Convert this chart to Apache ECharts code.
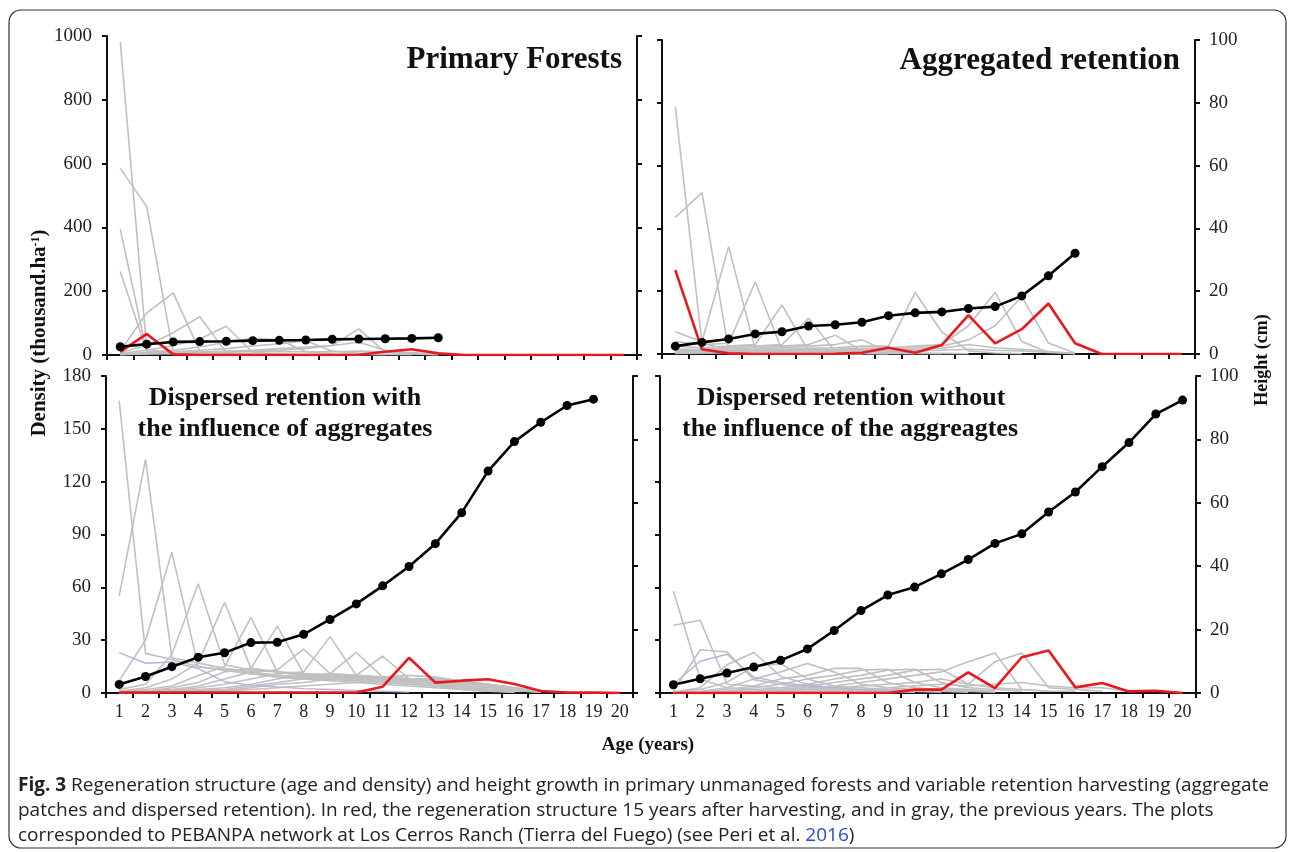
<!DOCTYPE html>
<html>
<head>
<meta charset="utf-8">
<script src="https://cdn.jsdelivr.net/npm/echarts/dist/echarts.min.js"></script>
<style>
html,body{margin:0;padding:0;background:#fff;}
#c{width:1290px;height:852px;}
</style>
</head>
<body>
<div id="c"></div>
<script>
// ---------- DATA ----------
const ages = ['1','2','3','4','5','6','7','8','9','10','11','12','13','14','15','16','17','18','19','20'];
const densityTicksTop = [0, 200, 400, 600, 800, 1000];
const densityTicksBottom = [0, 30, 60, 90, 120, 150, 180];
const heightTicks = [0, 20, 40, 60, 80, 100];

// Primary forests
const pfHeight = [2.6,3.4,4.1,4.2,4.3,4.5,4.6,4.7,4.9,5.0,5.1,5.2,5.4];
const pfRed = [10,66,2,0,0,0,0,0,0,1,10,18,5,0,0,0,0,0,0,0];
const pfGray = [
  [982,18,6,3,2,1,1,0.5],
  [585,465,6,3,2,1,0.5],
  [395,8,4,2,1,0.5],
  [262,10,5,2,1,0.5],
  [12,132,195,12,4,2,1,0.5],
  [8,30,70,120,8,3,2,1],
  [5,15,30,50,90,8,3,2,1],
  [3,8,15,25,40,52,48,10,4,2,1],
  [2,5,10,15,20,28,35,45,12,5,2,1],
  [2,4,6,10,12,15,20,25,30,82,8,3,1],
  [1,3,5,8,10,12,15,20,30,40,15,5,1],
  [3,5,8,10,10,10,10,10,10,12,10,8,3]
];

// Aggregated retention
const arHeight = [2.5,3.7,4.8,6.4,7.1,8.9,9.3,10.1,12.2,13.1,13.4,14.5,15.1,18.5,24.9,32.1];
const arRed = [267,15,2,0,0,0,1,4,20,4,29,124,34,79,161,34,0,0,0,0];
const arGray = [
  [788,34,15,8,5,3,2,1],
  [435,514,13,8,5,3,2,1],
  [71,39,342,13,6,3,2,1],
  [40,30,34,230,12,5,3,2,1],
  [25,20,25,30,156,10,4,2,1],
  [15,15,20,25,30,114,8,3,2,1],
  [10,12,15,20,25,30,60,10,4,2,1],
  [8,10,12,15,20,25,30,45,8,3,2,1],
  [6,8,10,12,15,18,20,25,25,196,70,10,3,1],
  [5,6,8,10,12,14,15,18,20,25,30,90,196,40,5],
  [4,5,6,8,10,12,14,15,18,20,25,45,90,183,35,3],
  [3,4,5,6,8,10,10,12,12,15,18,30,20,15,8,2],
  [2,3,4,5,6,8,8,10,10,10,12,15,12,10,5,1]
];

// Dispersed retention with the influence of aggregates
const dwHeight = [2.7,5.2,8.3,11.3,12.7,15.9,16.0,18.5,23.2,28.1,33.8,39.9,47.1,56.9,70.0,79.3,85.4,90.7,92.7];
const dwRed = [0.3,0.3,0.3,0.3,0.3,0.3,0.3,0.3,0.3,0.3,3.6,20.0,5.9,7.0,7.8,5.1,1.1,0.3,0.2,0];
const dwLavender = [22.9,16.9,17.6,13.9,6.4,4.5,3.5,2.5,2,1.5,1,0.5];
const dwGray = [
  [166,22.5,19,15,13,11,9,8,7,6,5,4,3,2,1,0.5],
  [55,132.7,20,17,14,12,10,9,8,7,6,5,4,3,2,1],
  [7,30,80,15,13,11,10,9,8,7,6,5,4,2,1],
  [2,5,22,62,16,13,12,10,9,8,7,6,5,3,1.5,0.5],
  [1,3,8,17,51.5,14,12,10,9,8,7,6,5,4,2,1],
  [1,2,4,10,15,43,12,11,10,9,8,7,6,4,2,1],
  [0.5,1,3,6,12,14,38,11,10,9,8,7,6,5,3,1.5,0.5],
  [0.5,1,2,4,8,12,13,25,11,10,9,8,7,5,3,1.5,0.5],
  [0.5,1,1.5,3,5,8,11,12,32,10,9,8,7,6,4,2,1],
  [0.3,0.5,1,2,3,5,8,10,11,23,9,8,7,6,4,2,1],
  [0.3,0.5,1,1.5,2,4,6,8,10,10,21,8,7,6,5,3,1],
  [0.3,0.3,0.5,1,1.5,3,5,6,8,9,9,10,9,7,5,3,1],
  [0.2,0.3,0.5,1,1,2,3,4,5,6,7,8,8,7,5,3,1]
];

// Dispersed retention without the influence of the aggregates
const dnHeight = [2.6,4.5,6.3,8.2,10.3,13.9,19.7,26.0,30.9,33.4,37.6,42.1,47.2,50.2,57.1,63.4,71.4,79.0,88.0,92.4];
const dnRed = [0,0,0,0,0,0,0,0,0,1.9,1.9,11.7,2.8,20.3,24.1,3.2,5.7,0.9,1.3,0];
const dnLavender = [5,18,22,9,6,4,3,2,1,0.5];
const dnGray = [
  [57.8,8,3,2,1.5,1,1,0.5],
  [38.5,41.3,5,4,3,2,1.5,1,0.5],
  [1,24.6,23.3,7.6,5,3,2,1.5,1,0.5],
  [0.5,3,16,23,9.5,5,3,2,1.5,1,0.5],
  [0.5,2,6,15,16.7,8,4,3,2,1.5,1,0.5],
  [0.3,1,3,8,12,16.7,12,5,3,2,1.5,1,0.5],
  [0.3,0.5,2,4,8,10,14,14,6,3,2,1.5,1],
  [0.2,0.5,1,3,5,8,10,13,13.5,6,3,2,1],
  [0.2,0.3,1,2,3,5,8,10,13,13.5,6,3,2,1],
  [0.2,0.3,0.5,1,2,4,6,8,10,13,13.5,5,3,2,1],
  [0.1,0.2,0.5,1,1.5,3,4,6,8,10,12,17.8,22.7,2,1,1],
  [0.1,0.2,0.3,0.5,1,2,3,4,5,6,8,5,17.8,22.7,3,2,1],
  [0.1,0.1,0.2,0.3,0.5,1,1.5,2,3,4,5,4,5,6,4,3,3,1]
];

const panelTitles = ['Primary Forests', 'Aggregated retention',
  'Dispersed retention with', 'the influence of aggregates',
  'Dispersed retention without', 'the influence of the aggreagtes'];

// ---------- CHART ----------
const chart = echarts.init(document.getElementById('c'), null, {renderer: 'canvas'});
const SERIF = '"Liberation Serif","Times New Roman",serif';
const AX = '#111';

const grids = [
  {left:107, top:36, width:530, height:319},
  {left:662, top:40, width:533, height:314},
  {left:106, top:376, width:527, height:317},
  {left:660, top:376, width:536, height:317}
];

function xAx(i, showLabel){
  return {type:'category', gridIndex:i, data:ages, boundaryGap:true,
    axisLine:{lineStyle:{color:AX, width:2}},
    axisTick:{show:true, length:5, alignWithLabel:false, interval:0, lineStyle:{color:AX, width:2}},
    axisLabel:{show:showLabel, interval:0, margin:10, fontFamily:SERIF, fontSize:18, color:'#222'},
    splitLine:{show:false}};
}
function yAx(i, pos, max, interval, showLabel){
  return {type:'value', gridIndex:i, position:pos, min:0, max:max, interval:interval,
    axisLine:{show:true, lineStyle:{color:AX, width:2}},
    axisTick:{show:true, length:5, lineStyle:{color:AX, width:2}},
    axisLabel:{show:showLabel, margin: pos==='left'?15:14, fontFamily:SERIF, fontSize:19, color:'#222',
      formatter: v => String(v)},
    splitLine:{show:false}};
}

const xAxis = [xAx(0,false), xAx(1,false), xAx(2,true), xAx(3,true)];
const yAxis = [
  yAx(0,'left',densityTicksTop[densityTicksTop.length-1],200,true),
  yAx(0,'right',heightTicks[heightTicks.length-1],20,false),
  yAx(1,'left',densityTicksTop[densityTicksTop.length-1],200,false),
  yAx(1,'right',heightTicks[heightTicks.length-1],20,true),
  yAx(2,'left',densityTicksBottom[densityTicksBottom.length-1],30,true),
  yAx(2,'right',heightTicks[heightTicks.length-1],20,false),
  yAx(3,'left',densityTicksBottom[densityTicksBottom.length-1],30,false),
  yAx(3,'right',heightTicks[heightTicks.length-1],20,true)
];

const series = [];
function addLine(g, yi, data, color, width, z){
  series.push({type:'line', xAxisIndex:g, yAxisIndex:yi, data:data, symbol:'none',
    lineStyle:{color:color, width:width}, itemStyle:{color:color}, z:z, silent:true, animation:false});
}
function addHeight(g, yi, data){
  series.push({type:'line', xAxisIndex:g, yAxisIndex:yi, data:data, symbol:'circle', symbolSize:9,
    lineStyle:{color:'#000', width:2.6}, itemStyle:{color:'#000'}, z:5, animation:false});
}
const GRAY = '#c0c0c0', LAV = '#b7b2d8', RED = '#e8191e';
[[pfGray,null,pfRed,pfHeight],[arGray,null,arRed,arHeight],[dwGray,dwLavender,dwRed,dwHeight],[dnGray,dnLavender,dnRed,dnHeight]]
.forEach((p, g) => {
  p[0].forEach(arr => addLine(g, g*2, arr, GRAY, 1.6, 2));
  if (p[1]) addLine(g, g*2, p[1], LAV, 1.4, 2);
  addLine(g, g*2, p[2], RED, 2.6, 4);
  addHeight(g, g*2+1, p[3]);
});

const titleFont = 'bold 31px ' + SERIF;
const subFont = 'bold 26px ' + SERIF;
const capFont = '19px "Open Sans", "Noto Sans", sans-serif';

const graphic = [
  {type:'rect', shape:{x:9, y:10, width:1277, height:838, r:12}, style:{fill:'none', stroke:'#333', lineWidth:1.2}, z:0},
  {type:'text', x:622, y:60, style:{text:panelTitles[0], font:titleFont, fill:'#111', textAlign:'right', textVerticalAlign:'middle'}},
  {type:'text', x:1180, y:61, style:{text:panelTitles[1], font:titleFont, fill:'#111', textAlign:'right', textVerticalAlign:'middle'}},
  {type:'text', x:285, y:398, style:{text:panelTitles[2], font:subFont, fill:'#111', textAlign:'center', textVerticalAlign:'middle'}},
  {type:'text', x:285, y:429, style:{text:panelTitles[3], font:subFont, fill:'#111', textAlign:'center', textVerticalAlign:'middle'}},
  {type:'text', x:851, y:398, style:{text:panelTitles[4], font:subFont, fill:'#111', textAlign:'center', textVerticalAlign:'middle'}},
  {type:'text', x:850, y:429, style:{text:panelTitles[5], font:subFont, fill:'#111', textAlign:'center', textVerticalAlign:'middle'}},
  {type:'text', x:40, y:333, rotation:Math.PI/2,
    style:{text:'{t|Density (thousand.ha}{s|-1}{t|)}', textAlign:'center', textVerticalAlign:'middle',
      rich:{t:{font:'bold 21px '+SERIF, fill:'#111'}, s:{font:'bold 12px '+SERIF, fill:'#111', verticalAlign:'top'}}}},
  {type:'text', x:1262, y:360, rotation:Math.PI/2,
    style:{text:'Height (cm)', font:'bold 18px '+SERIF, fill:'#111', textAlign:'center', textVerticalAlign:'middle'}},
  {type:'text', x:648, y:745, style:{text:'Age (years)', font:'bold 19px '+SERIF, fill:'#111', textAlign:'center', textVerticalAlign:'middle'}},
  {type:'text', x:18, y:786, style:{text:'{b|Fig. 3} Regeneration structure (age and density) and height growth in primary unmanaged forests and variable retention harvesting (aggregate',
    textVerticalAlign:'middle', rich:{b:{font:'bold '+capFont, fill:'#222'}}, font:capFont, fill:'#222'}},
  {type:'text', x:18, y:811, style:{text:'patches and dispersed retention). In red, the regeneration structure 15 years after harvesting, and in gray, the previous years. The plots',
    textVerticalAlign:'middle', font:capFont, fill:'#222'}},
  {type:'text', x:18, y:836, style:{text:'corresponded to PEBANPA network at Los Cerros Ranch (Tierra del Fuego) (see Peri et al. {l|2016})',
    textVerticalAlign:'middle', rich:{l:{font:capFont, fill:'#2a48d8'}}, font:capFont, fill:'#222'}}
];

chart.setOption({
  animation:false,
  backgroundColor:'#fff',
  grid:grids,
  xAxis:xAxis,
  yAxis:yAxis,
  series:series,
  graphic:graphic
});
</script>
</body>
</html>
